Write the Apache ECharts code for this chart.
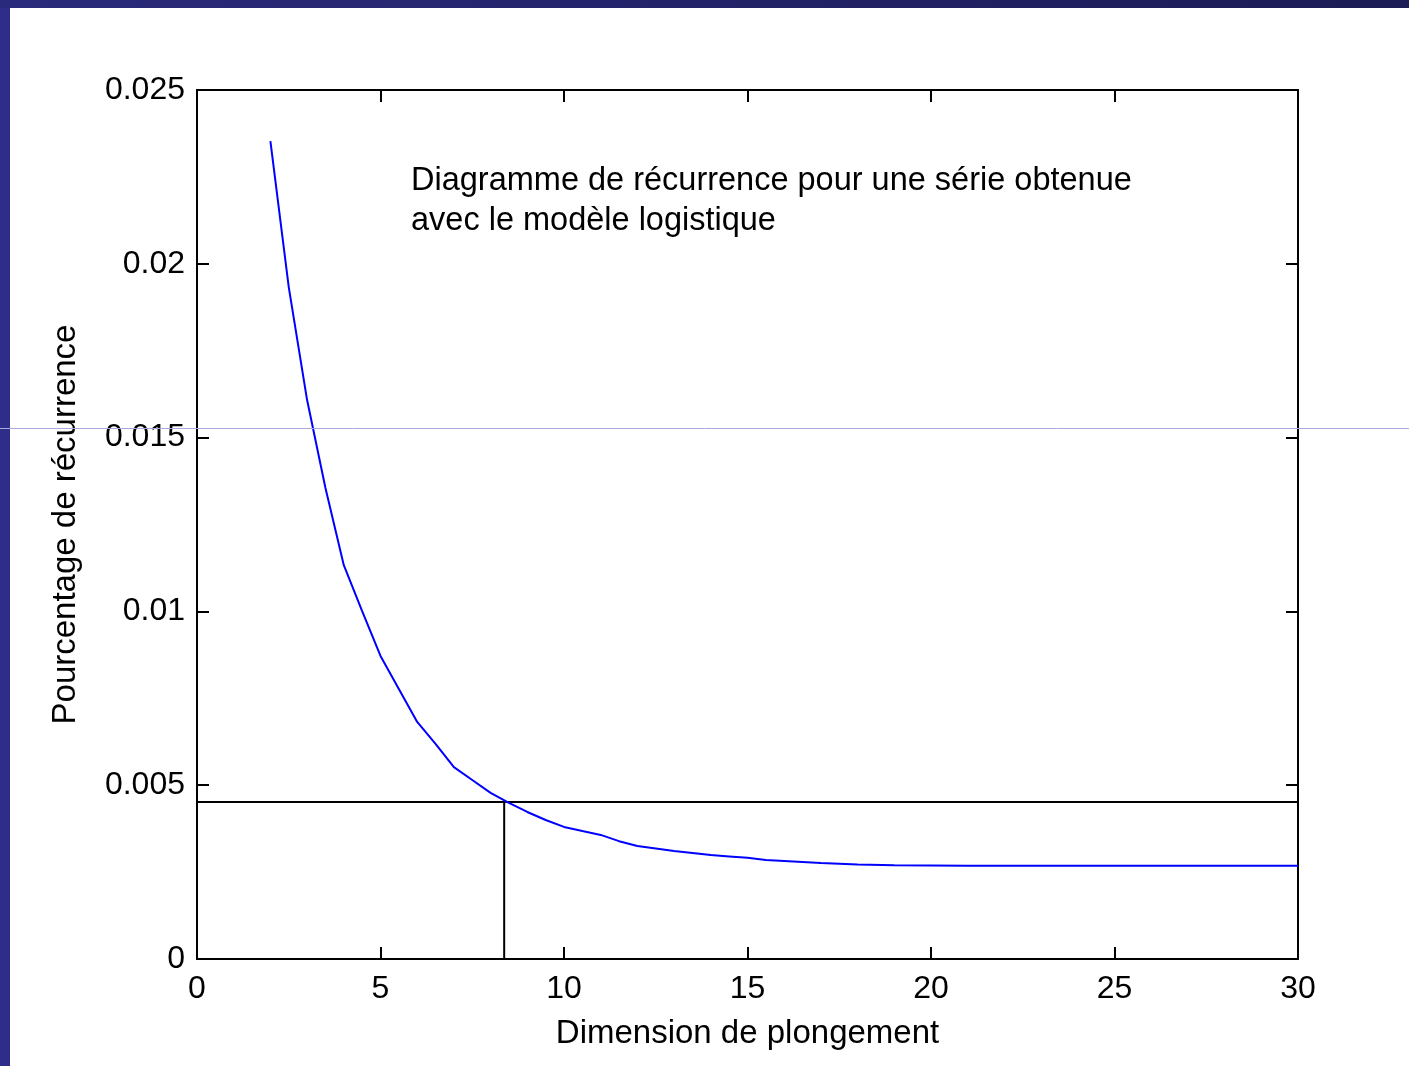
<!DOCTYPE html>
<html><head><meta charset="utf-8">
<script src="https://cdn.jsdelivr.net/npm/echarts@6/dist/echarts.min.js"></script>
<style>html,body{margin:0;padding:0;background:#fff;}#c{width:1409px;height:1066px;}</style>
</head><body><div id="c"></div>
<script>
const dims = [2,2.5,3,3.5,4,4.5,5,5.5,6,6.5,7,7.5,8,8.5,9,9.5,10,10.5,11,11.5,12,12.5,13,13.5,14,14.5,15,15.5,16,16.5,17,17.5,18,19,20,21,22,23,24,25,26,27,28,29,30];
const pct  = [0.02353,0.01933,0.01608,0.01355,0.01133,0.01001,0.00872,0.00777,0.00682,0.00619,0.00552,0.00515,0.00478,0.00449,0.00423,0.00400,0.00380,0.00368,0.00357,0.00339,0.00325,0.00318,0.00311,0.00305,0.00299,0.00295,0.00291,0.00285,0.00282,0.00279,0.00276,0.00274,0.00272,0.00270,0.00269,0.00268,0.00268,0.00268,0.00268,0.00268,0.00268,0.00268,0.00268,0.00268,0.00268];
const thresholdY = 0.00452;
const thresholdX = 8.37;
const xTicks = [0,5,10,15,20,25,30];
const yTicks = [0,0.005,0.01,0.015,0.02,0.025];
const annotation = 'Diagramme de récurrence pour une série obtenue\navec le modèle logistique';
const xTitle = 'Dimension de plongement';
const yTitle = 'Pourcentage de récurrence';

const chart = echarts.init(document.getElementById('c'));
const font = '"Liberation Sans", Arial, sans-serif';
const axCommon = {
  axisLine:{show:true,onZero:false,lineStyle:{color:'#000',width:2}},
  axisTick:{show:true,inside:true,length:12,lineStyle:{color:'#000',width:2}},
  splitLine:{show:false}
};
chart.setOption({
  animation:false,
  backgroundColor:'#fff',
  grid:{left:197,right:111,top:90,bottom:107,containLabel:false},
  xAxis:[
    Object.assign({type:'value',position:'bottom',min:0,max:30,interval:5,
      name:xTitle,nameLocation:'middle',nameGap:58,
      nameTextStyle:{fontFamily:font,fontSize:33,color:'#000'},
      axisLabel:{fontFamily:font,fontSize:32,color:'#000',margin:14,
        formatter:v=>xTicks.includes(v)?String(v):''}},axCommon),
    Object.assign({type:'value',position:'top',min:0,max:30,interval:5,axisLabel:{show:false}},axCommon)
  ],
  yAxis:[
    Object.assign({type:'value',position:'left',min:0,max:0.025,interval:0.005,
      name:yTitle,nameLocation:'middle',nameGap:115,
      nameTextStyle:{fontFamily:font,fontSize:33,color:'#000'},
      axisLabel:{fontFamily:font,fontSize:32,color:'#000',margin:12,
        formatter:v=>{const t=yTicks.find(a=>Math.abs(a-v)<1e-9);return t===undefined?'':(t===0?'0':String(+t.toFixed(3)));}}},axCommon),
    Object.assign({type:'value',position:'right',min:0,max:0.025,interval:0.005,axisLabel:{show:false}},axCommon)
  ],
  series:[
    {type:'line',data:dims.map((d,i)=>[d,pct[i]]),showSymbol:false,lineStyle:{color:'#0000ff',width:2},z:3},
    {type:'line',data:[[0,thresholdY],[30,thresholdY]],showSymbol:false,lineStyle:{color:'#000',width:2},z:2},
    {type:'line',data:[[thresholdX,0],[thresholdX,thresholdY]],showSymbol:false,lineStyle:{color:'#000',width:2},z:2}
  ],
  graphic:[
    {type:'rect',shape:{x:0,y:0,width:10,height:1066},style:{fill:'#2e2e8a'},z:10},
    {type:'rect',shape:{x:0,y:0,width:1409,height:8},style:{fill:new echarts.graphic.LinearGradient(0,0,1,0,[{offset:0,color:'#2a2a7c'},{offset:1,color:'#1c1c56'}])},z:10},
    {type:'line',shape:{x1:0,y1:428.5,x2:1409,y2:428.5},style:{stroke:'#a8a8dc',lineWidth:1},z:10},
    {type:'text',left:411,top:161,style:{text:annotation,fontFamily:font,fontSize:32.5,lineHeight:40,fill:'#000'},z:5}
  ]
});
</script></body></html>
